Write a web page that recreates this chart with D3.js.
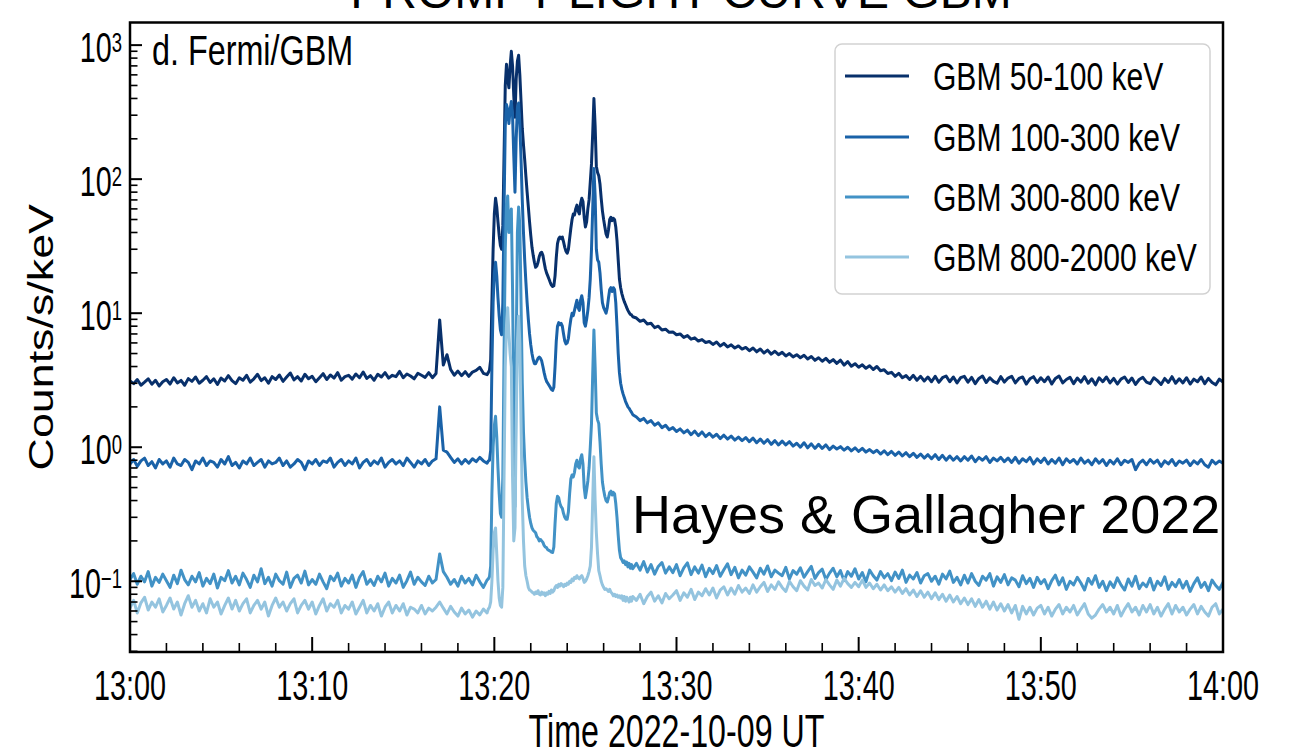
<!DOCTYPE html>
<html>
<head>
<meta charset="utf-8">
<script src="https://cdn.jsdelivr.net/npm/d3@7"></script>
<style>
  html, body { margin: 0; padding: 0; background: #ffffff; }
  svg { display: block; }
  text { font-family: "Liberation Sans", Arial, Helvetica, sans-serif; fill: #000; }
</style>
</head>
<body>
<svg id="chart" width="1291" height="755"></svg>
<script>
// Energy channels of the Fermi/GBM light curve and their colours
const channels = ["GBM 50-100 keV", "GBM 100-300 keV", "GBM 300-800 keV", "GBM 800-2000 keV"];
const colors = ["#08306b", "#1a62a8", "#4292c6", "#94c4df"];

// Sampling of each segment, in seconds after 13:00 UT
const preStart = 0, preStep = 12;      // quiet time before the flare
const flareStart = 1180, flareStep = 4; // impulsive phase
const postStart = 1668, postStep = 12;  // decay

// X axis tick labels (UT)
const timeTicks = ["13:00", "13:10", "13:20", "13:30", "13:40", "13:50", "14:00"];
// Y axis decades (exponents)
const decades = [-1, 0, 1, 2, 3];

// ---- 50-100 keV (counts/s/keV) ----
const c1_pre = [
  3.12, 2.98, 3.2, 2.9, 3.06, 3.24, 2.95, 3.16, 2.86, 3.08,
  3.2, 2.96, 3.3, 3.02, 3.15, 2.9, 3.25, 3.1, 3.34, 3.0,
  3.16, 3.36, 3.04, 3.24, 2.94, 3.28, 3.12, 3.42, 3.14, 2.98,
  3.3, 3.16, 3.44, 3.06, 3.24, 3.5, 3.14, 3.3, 3.0, 3.36,
  3.2, 3.46, 3.1, 3.34, 3.58, 3.18, 3.36, 3.12, 3.5, 3.24,
  3.38, 3.08, 3.3, 3.54, 3.2, 3.46, 3.28, 3.6, 3.16, 3.36,
  3.44, 3.22, 3.52, 3.3, 3.64, 3.26, 3.42, 3.16, 3.5, 3.34,
  3.6, 3.28, 3.44, 3.36, 3.68, 3.3, 3.52, 3.4, 3.24, 3.56,
  3.44, 3.32, 3.6, 3.3, 3.55,
  8.9,
  4.1, 4.9, 3.8, 3.45, 3.7, 3.42, 3.66, 3.38, 3.64, 3.74, 3.95, 3.56, 3.48
];
const c1_flare = [
  3.6, 3.75, 4.5, 12, 30, 55, 72, 62, 48, 38,
  32, 30, 45, 150, 500, 720, 560, 480, 700, 900,
  700, 420, 290, 560, 760, 840, 600, 380, 240, 180,
  140, 105, 80, 62, 48, 38, 31, 27, 24, 22,
  22.5, 24, 26.5, 28, 28.5, 27, 24, 21.5, 20, 19,
  18, 17, 16.2, 15.8, 16, 19, 26, 33, 36, 37,
  36, 37, 34, 31, 29, 28, 30, 36, 43, 50,
  55, 54, 60, 64, 58, 55, 66, 72, 68, 52,
  44, 48, 60, 70, 95, 130, 220, 400, 250, 125,
  112, 106, 92, 72, 58, 50, 44, 39, 37, 42,
  50, 52, 49, 51, 50, 44, 35, 25, 18, 15.5,
  14, 13, 12.2, 11.6, 11, 10.5, 10.1, 9.8, 9.7, 9.4
];
const c1_post = [
  9.2, 8.7, 8.9, 8.3, 8.4, 7.8, 8.0, 7.5, 7.6, 7.2,
  7.25, 6.9, 7.0, 6.6, 6.8, 6.4, 6.55, 6.2, 6.35, 6.05,
  6.15, 5.85, 6.1, 5.7, 5.95, 5.6, 5.8, 5.5, 5.7, 5.4,
  5.55, 5.25, 5.5, 5.15, 5.4, 5.05, 5.3, 4.95, 5.2, 4.9,
  5.1, 4.8, 5.0, 4.72, 4.9, 4.65, 4.85, 4.55, 4.75, 4.45,
  4.65, 4.38, 4.6, 4.3, 4.5, 4.22, 4.46, 4.1, 4.35, 4.02,
  4.2, 3.95, 4.12, 3.88, 4.05, 3.8, 4.0, 3.72, 3.78, 3.55,
  3.62, 3.38, 3.56, 3.3, 3.42, 3.2, 3.44, 3.16, 3.38, 3.12,
  3.34, 3.08, 3.38, 3.05, 3.3, 3.4, 3.08, 3.34, 3.02, 3.3,
  3.38, 3.06, 3.32, 2.98, 3.26, 3.4, 3.04, 3.3, 3.1, 3.0,
  3.36, 3.06, 3.28, 3.38, 3.02, 3.26, 3.34, 2.96, 3.24, 3.36,
  3.04, 3.3, 3.08, 3.34, 2.96, 3.26, 3.4, 3.02, 3.2, 3.32,
  2.98, 3.28, 3.06, 3.36, 3.0, 3.24, 2.92, 3.3, 3.08, 3.34,
  3.02, 3.26, 2.96, 3.22, 3.34, 3.04, 3.28, 2.94, 3.2, 3.32,
  3.06, 2.98, 3.3, 3.14, 2.94, 3.26, 3.04, 3.36, 3.0, 3.24,
  3.02, 3.3, 2.96, 3.22, 3.08, 3.34, 2.98, 3.26, 3.04, 2.92, 3.22, 3.06
];

// ---- 100-300 keV ----
const c2_pre = [
  0.75, 0.81, 0.72, 0.79, 0.83, 0.73, 0.78, 0.7, 0.81, 0.75,
  0.79, 0.71, 0.83, 0.75, 0.73, 0.81, 0.77, 0.68, 0.79, 0.75,
  0.83, 0.73, 0.79, 0.77, 0.71, 0.81, 0.75, 0.85, 0.73, 0.77,
  0.7, 0.79, 0.75, 0.83, 0.73, 0.77, 0.81, 0.71, 0.79, 0.75,
  0.77, 0.83, 0.73, 0.79, 0.71, 0.75, 0.81, 0.77, 0.68, 0.79,
  0.75, 0.81, 0.73, 0.79, 0.77, 0.83, 0.71, 0.77, 0.81, 0.73,
  0.79, 0.75, 0.83, 0.7, 0.77, 0.81, 0.73, 0.79, 0.75, 0.83,
  0.71, 0.77, 0.81, 0.75, 0.79, 0.73, 0.83, 0.77, 0.71, 0.79,
  0.75, 0.81, 0.73, 0.79, 0.82,
  2.0,
  0.95, 0.92, 0.84, 0.77, 0.82, 0.75, 0.81, 0.76, 0.82, 0.78, 0.84, 0.79, 0.76
];
const c2_flare = [
  0.79, 0.8, 0.95, 4, 12, 20, 24, 19, 13, 9.5,
  7.5, 6.9, 12, 60, 250, 360, 330, 260, 330, 380,
  300, 150, 80, 200, 340, 370, 260, 140, 70, 40,
  25, 17, 12, 9, 7, 5.8, 5.0, 4.5, 4.2, 4.2,
  4.4, 4.6, 4.7, 4.6, 4.4, 4.0, 3.6, 3.3, 3.1, 3.0,
  2.9, 2.8, 2.7, 2.65, 2.8, 4.0, 6.2, 8.0, 8.5, 8.2,
  8.4, 8.0, 7.0, 6.2, 5.9, 6.0, 6.5, 7.8, 9.0, 10,
  9.6, 10.5, 11.5, 12.5, 11, 10.5, 12.5, 13.5, 12, 8.5,
  8.0, 9.0, 10.5, 13, 18, 30, 60, 120, 75, 30,
  25, 24, 20, 15, 12, 11, 10.5, 10, 11, 13,
  15, 15.5, 14.5, 15.5, 15, 12, 8, 5, 3.6, 3.0,
  2.7, 2.5, 2.35, 2.2, 2.1, 2.0, 1.95, 1.88, 1.82, 1.75
];
const c2_post = [
  1.68, 1.58, 1.64, 1.52, 1.58, 1.46, 1.52, 1.4, 1.46, 1.35,
  1.4, 1.31, 1.37, 1.28, 1.34, 1.24, 1.32, 1.22, 1.3, 1.2,
  1.27, 1.19, 1.25, 1.16, 1.23, 1.15, 1.21, 1.13, 1.19, 1.12,
  1.18, 1.1, 1.17, 1.08, 1.15, 1.07, 1.14, 1.05, 1.12, 1.04,
  1.11, 1.04, 1.1, 1.02, 1.07, 1.0, 1.08, 0.99, 1.06, 0.98,
  1.05, 0.98, 1.04, 0.96, 1.02, 0.97, 1.01, 0.95, 1.0, 0.94,
  0.99, 0.93, 0.98, 0.92, 0.96, 0.91, 0.95, 0.89, 0.94, 0.88,
  0.93, 0.87, 0.92, 0.86, 0.91, 0.85, 0.9, 0.84, 0.89, 0.83,
  0.88, 0.82, 0.88, 0.81, 0.87, 0.8, 0.86, 0.8, 0.85, 0.79,
  0.85, 0.8, 0.86, 0.78, 0.84, 0.8, 0.85, 0.77, 0.83, 0.79,
  0.84, 0.78, 0.83, 0.77, 0.84, 0.76, 0.82, 0.78, 0.84, 0.75,
  0.82, 0.77, 0.83, 0.75, 0.81, 0.76, 0.83, 0.74, 0.82, 0.77,
  0.81, 0.75, 0.83, 0.76, 0.8, 0.74, 0.82, 0.76, 0.81, 0.73,
  0.8, 0.75, 0.82, 0.74, 0.8, 0.77, 0.81, 0.68, 0.76, 0.8,
  0.74, 0.81, 0.76, 0.8, 0.72, 0.79, 0.75, 0.81, 0.73, 0.79,
  0.76, 0.8, 0.73, 0.79, 0.75, 0.81, 0.74, 0.71, 0.8, 0.75, 0.79, 0.76
];

// ---- 300-800 keV ----
const c3_pre = [
  0.103, 0.114, 0.095, 0.109, 0.099, 0.118, 0.092, 0.107, 0.098, 0.113,
  0.101, 0.09, 0.111, 0.096, 0.121, 0.103, 0.094, 0.109, 0.099, 0.116,
  0.092, 0.105, 0.096, 0.113, 0.089, 0.107, 0.101, 0.12, 0.097, 0.109,
  0.094, 0.115, 0.103, 0.09, 0.111, 0.099, 0.124, 0.096, 0.107, 0.092,
  0.113, 0.101, 0.095, 0.117, 0.09, 0.105, 0.111, 0.097, 0.119, 0.094,
  0.103, 0.095, 0.113, 0.099, 0.088, 0.109, 0.101, 0.115, 0.092, 0.105,
  0.097, 0.111, 0.09, 0.107, 0.118, 0.095, 0.103, 0.093, 0.109, 0.099,
  0.115, 0.092, 0.105, 0.097, 0.111, 0.09, 0.101, 0.117, 0.095, 0.107,
  0.099, 0.093, 0.109, 0.097, 0.103,
  0.16,
  0.118, 0.107, 0.095, 0.103, 0.092, 0.109, 0.097, 0.105, 0.094, 0.111, 0.099, 0.09, 0.102
];
const c3_flare = [
  0.104, 0.108, 0.13, 0.45, 1.0, 1.45, 1.7, 1.2, 0.7, 0.45,
  0.32, 0.3, 0.6, 5, 30, 65, 75, 40, 50, 60,
  15, 2, 0.36, 5, 40, 62, 45, 12, 3, 1.3,
  0.8, 0.55, 0.42, 0.35, 0.3, 0.27, 0.25, 0.24, 0.235, 0.23,
  0.215, 0.21, 0.2, 0.205, 0.2, 0.195, 0.185, 0.18, 0.178, 0.172,
  0.17, 0.168, 0.165, 0.164, 0.18, 0.27, 0.38, 0.43, 0.42, 0.38,
  0.36, 0.35, 0.32, 0.3, 0.29, 0.29, 0.33, 0.45, 0.58, 0.62,
  0.6, 0.65, 0.75, 0.8, 0.72, 0.7, 0.82, 0.88, 0.75, 0.5,
  0.42, 0.48, 0.56, 0.7, 1.0, 1.5, 3.5, 7.5, 4.0, 1.8,
  1.6, 1.5, 1.1, 0.75, 0.55, 0.48, 0.43, 0.4, 0.39, 0.42,
  0.46, 0.47, 0.44, 0.46, 0.45, 0.38, 0.3, 0.22, 0.17, 0.15,
  0.145, 0.138, 0.142, 0.133, 0.139, 0.128, 0.136, 0.125, 0.133, 0.124
];
const c3_post = [
  0.136, 0.121, 0.14, 0.117, 0.133, 0.113, 0.129, 0.138, 0.115, 0.128,
  0.116, 0.133, 0.11, 0.126, 0.137, 0.112, 0.128, 0.115, 0.132, 0.108,
  0.125, 0.114, 0.131, 0.109, 0.122, 0.135, 0.112, 0.127, 0.106, 0.121,
  0.111, 0.128, 0.117, 0.106, 0.125, 0.113, 0.13, 0.108, 0.121, 0.115,
  0.11, 0.127, 0.104, 0.12, 0.113, 0.126, 0.107, 0.118, 0.129, 0.105,
  0.116, 0.123, 0.103, 0.115, 0.125, 0.108, 0.12, 0.101, 0.118, 0.109,
  0.124, 0.104, 0.116, 0.099, 0.121, 0.11, 0.102, 0.118, 0.106, 0.114,
  0.101, 0.117, 0.105, 0.121, 0.098, 0.111, 0.104, 0.116, 0.097, 0.11,
  0.114, 0.1, 0.109, 0.095, 0.113, 0.104, 0.119, 0.098, 0.107, 0.094,
  0.111, 0.097, 0.114, 0.1, 0.093, 0.109, 0.102, 0.114, 0.092, 0.108,
  0.098, 0.112, 0.094, 0.106, 0.102, 0.091, 0.11, 0.096, 0.105, 0.09,
  0.107, 0.096, 0.103, 0.088, 0.101, 0.111, 0.094, 0.106, 0.087, 0.1,
  0.094, 0.107, 0.097, 0.086, 0.105, 0.095, 0.11, 0.09, 0.1, 0.085,
  0.099, 0.09, 0.106, 0.094, 0.086, 0.104, 0.092, 0.109, 0.088, 0.097,
  0.091, 0.105, 0.086, 0.1, 0.093, 0.108, 0.087, 0.098, 0.091, 0.103,
  0.089, 0.1, 0.084, 0.096, 0.106, 0.09, 0.098, 0.085, 0.102, 0.093, 0.087, 0.098
];

// ---- 800-2000 keV ----
const c4_pre = [
  0.063, 0.072, 0.058, 0.069, 0.076, 0.061, 0.07, 0.064, 0.074, 0.059,
  0.066, 0.075, 0.062, 0.07, 0.056, 0.068, 0.078, 0.064, 0.072, 0.06,
  0.068, 0.058, 0.074, 0.064, 0.07, 0.057, 0.066, 0.075, 0.062, 0.072,
  0.06, 0.068, 0.074, 0.058, 0.066, 0.072, 0.062, 0.07, 0.055, 0.066,
  0.075, 0.064, 0.07, 0.06, 0.068, 0.074, 0.058, 0.066, 0.072, 0.062,
  0.07, 0.057, 0.066, 0.074, 0.06, 0.068, 0.064, 0.072, 0.058, 0.066,
  0.062, 0.07, 0.057, 0.064, 0.072, 0.058, 0.066, 0.06, 0.068, 0.055,
  0.064, 0.07, 0.058, 0.066, 0.06, 0.068, 0.056, 0.064, 0.062, 0.058,
  0.066, 0.057, 0.063, 0.06, 0.064,
  0.07,
  0.063, 0.057, 0.065, 0.059, 0.055, 0.063, 0.057, 0.061, 0.054, 0.06, 0.056, 0.062, 0.058
];
const c4_flare = [
  0.062, 0.064, 0.07, 0.1, 0.17, 0.23, 0.25, 0.16, 0.1, 0.075,
  0.066, 0.064, 0.09, 0.6, 4, 8, 11, 7, 5, 4,
  0.6, 0.2, 0.25, 1.5, 6, 9.5, 6, 1.5, 0.4, 0.2,
  0.13, 0.11, 0.1, 0.09, 0.086, 0.085, 0.083, 0.082, 0.08, 0.083,
  0.081, 0.085, 0.08, 0.079, 0.083, 0.08, 0.082, 0.078, 0.082, 0.08,
  0.084, 0.081, 0.086, 0.083, 0.085, 0.09, 0.093, 0.09, 0.095, 0.092,
  0.096, 0.094, 0.091, 0.095, 0.093, 0.097, 0.095, 0.1, 0.098, 0.104,
  0.101, 0.107, 0.105, 0.11, 0.106, 0.104, 0.108, 0.11, 0.105, 0.098,
  0.1, 0.104, 0.11, 0.118, 0.13, 0.18, 0.4, 0.85, 0.4, 0.23,
  0.16, 0.12, 0.11, 0.1, 0.094, 0.09, 0.087, 0.088, 0.086, 0.084,
  0.087, 0.083, 0.081, 0.078, 0.08, 0.077, 0.079, 0.076, 0.078, 0.075,
  0.078, 0.072, 0.077, 0.071, 0.076, 0.073, 0.07, 0.076, 0.071, 0.077
];
const c4_post = [
  0.072, 0.08, 0.068, 0.077, 0.083, 0.071, 0.078, 0.069, 0.081, 0.074,
  0.079, 0.085, 0.072, 0.082, 0.076, 0.087, 0.073, 0.083, 0.078, 0.088,
  0.079, 0.089, 0.075, 0.086, 0.091, 0.079, 0.089, 0.08, 0.093, 0.083,
  0.089, 0.081, 0.094, 0.083, 0.091, 0.098, 0.084, 0.094, 0.087, 0.099,
  0.09, 0.084, 0.1, 0.091, 0.085, 0.101, 0.092, 0.086, 0.103, 0.093,
  0.097, 0.089, 0.103, 0.094, 0.087, 0.102, 0.092, 0.105, 0.096, 0.09,
  0.098, 0.091, 0.102, 0.09, 0.097, 0.088, 0.095, 0.086, 0.094, 0.085,
  0.091, 0.083, 0.09, 0.081, 0.088, 0.079, 0.086, 0.077, 0.085, 0.076,
  0.083, 0.074, 0.082, 0.073, 0.08, 0.071, 0.079, 0.07, 0.077, 0.068,
  0.075, 0.067, 0.074, 0.065, 0.073, 0.064, 0.071, 0.062, 0.07, 0.061,
  0.068, 0.06, 0.067, 0.058, 0.066, 0.052, 0.065, 0.057, 0.064, 0.056,
  0.063, 0.066, 0.057, 0.064, 0.055, 0.062, 0.067, 0.057, 0.064, 0.059,
  0.066, 0.056, 0.062, 0.068, 0.057, 0.053, 0.056, 0.062, 0.067, 0.059,
  0.064, 0.057, 0.066, 0.055, 0.062, 0.068, 0.059, 0.064, 0.056, 0.066,
  0.059, 0.067, 0.057, 0.064, 0.055, 0.062, 0.068, 0.057, 0.066, 0.059,
  0.064, 0.056, 0.062, 0.067, 0.057, 0.065, 0.059, 0.055, 0.064, 0.068, 0.057, 0.062
];

// ------------------------------------------------------------------
const svg = d3.select("#chart");
const plot = { left: 130, right: 1223, top: 22.5, bottom: 652 };
const t0 = Date.UTC(2022, 9, 9, 13, 0, 0);

const x = d3.scaleUtc()
  .domain([new Date(t0), new Date(t0 + 3600 * 1000)])
  .range([plot.left, plot.right]);
const y = d3.scaleLog()
  .domain([0.02966, 1475])
  .range([plot.bottom, plot.top]);

function segment(vals, start, step) {
  return vals.map((v, i) => ({ date: new Date(t0 + (start + i * step) * 1000), v }));
}
const raw = [
  [c1_pre, c1_flare, c1_post],
  [c2_pre, c2_flare, c2_post],
  [c3_pre, c3_flare, c3_post],
  [c4_pre, c4_flare, c4_post]
];
const series = raw.map((s, k) => ({
  name: channels[k],
  color: colors[k],
  points: [].concat(
    segment(s[0], preStart, preStep),
    segment(s[1], flareStart, flareStep),
    segment(s[2], postStart, postStep))
}));

// Title above the frame (cropped at the top of the page)
svg.append("text")
  .attr("x", 681).attr("y", 8)
  .attr("text-anchor", "middle")
  .style("font-size", "48px")
  .text("PROMPT LIGHT CURVE GBM");

// Clip for the curves
svg.append("clipPath").attr("id", "plotclip")
  .append("rect")
  .attr("x", plot.left).attr("y", plot.top)
  .attr("width", plot.right - plot.left).attr("height", plot.bottom - plot.top);

const line = d3.line()
  .x(d => x(d.date))
  .y(d => y(d.v));

svg.append("g").attr("clip-path", "url(#plotclip)")
  .selectAll("path")
  .data(series)
  .join("path")
  .attr("d", d => line(d.points))
  .attr("fill", "none")
  .attr("stroke", d => d.color)
  .attr("stroke-width", 3)
  .attr("stroke-linejoin", "round")
  .attr("stroke-linecap", "round");

// ---- ticks (pointing inward) ----
const tickG = svg.append("g").attr("stroke", "#000");
const majorX = x.ticks(d3.utcMinute.every(10));
const minorX = x.ticks(d3.utcMinute.every(2)).filter(d => d.getUTCMinutes() % 10 !== 0);
tickG.selectAll("line.xmaj").data(majorX).join("line")
  .attr("x1", d => x(d)).attr("x2", d => x(d))
  .attr("y1", plot.bottom).attr("y2", plot.bottom - 15)
  .attr("stroke-width", 2);
tickG.selectAll("line.xmin").data(minorX).join("line")
  .attr("x1", d => x(d)).attr("x2", d => x(d))
  .attr("y1", plot.bottom).attr("y2", plot.bottom - 9)
  .attr("stroke-width", 1.6);

const majorY = decades.map(e => Math.pow(10, e));
const minorY = [];
for (let e = -2; e <= 3; e++) {
  for (let k = 2; k <= 9; k++) {
    const v = k * Math.pow(10, e);
    if (v >= y.domain()[0] && v <= y.domain()[1]) minorY.push(v);
  }
}
tickG.selectAll("line.ymaj").data(majorY).join("line")
  .attr("x1", plot.left).attr("x2", plot.left + 12)
  .attr("y1", d => y(d)).attr("y2", d => y(d))
  .attr("stroke-width", 2);
tickG.selectAll("line.ymin").data(minorY).join("line")
  .attr("x1", plot.left).attr("x2", plot.left + 7.5)
  .attr("y1", d => y(d)).attr("y2", d => y(d))
  .attr("stroke-width", 1.6);

// ---- frame ----
svg.append("rect")
  .attr("x", plot.left).attr("y", plot.top)
  .attr("width", plot.right - plot.left).attr("height", plot.bottom - plot.top)
  .attr("fill", "none").attr("stroke", "#000").attr("stroke-width", 2.5);

// Narrow, tall lettering: text drawn at a size and squeezed horizontally
function squeezed(parent, px, py, sx) {
  return parent.append("g").attr("transform", `translate(${px},${py}) scale(${sx},1)`).append("text");
}

// X tick labels
const fmt = d3.utcFormat("%H:%M");
majorX.forEach((d, i) => {
  squeezed(svg, x(d), 700, 0.67)
    .attr("text-anchor", "middle")
    .style("font-size", "43px")
    .text(timeTicks[i] || fmt(d));
});

// Y tick labels 10^n
decades.forEach(e => {
  const t = squeezed(svg, 122, y(Math.pow(10, e)) + 17, 0.685)
    .attr("text-anchor", "end")
    .style("font-size", "42px");
  t.append("tspan").text("10");
  t.append("tspan")
    .attr("dy", -10)
    .style("font-size", "27px")
    .text(e < 0 ? "\u2212" + (-e) : String(e));
});

// Axis titles
squeezed(svg, (plot.left + plot.right) / 2, 747, 0.7)
  .attr("text-anchor", "middle")
  .style("font-size", "46px")
  .text("Time 2022-10-09 UT");

svg.append("g")
  .attr("transform", `translate(53,${(plot.top + plot.bottom) / 2}) scale(1,1.28) rotate(-90)`)
  .append("text")
  .attr("text-anchor", "middle")
  .style("font-size", "35px")
  .text("Counts/s/keV");

// Panel label
squeezed(svg, 152, 65, 0.77)
  .style("font-size", "42px")
  .text("d. Fermi/GBM");

// ---- legend ----
const lg = svg.append("g");
lg.append("rect")
  .attr("x", 835).attr("y", 44).attr("width", 375).attr("height", 250)
  .attr("rx", 7).attr("ry", 7)
  .attr("fill", "#fff").attr("fill-opacity", 0.85)
  .attr("stroke", "#d2d2d2").attr("stroke-width", 1.5);
const rowY = [76, 137, 197, 257];
series.forEach((s, k) => {
  lg.append("line")
    .attr("x1", 845).attr("x2", 909)
    .attr("y1", rowY[k]).attr("y2", rowY[k])
    .attr("stroke", s.color).attr("stroke-width", 3);
  squeezed(lg, 933, rowY[k] + 14, 0.77)
    .style("font-size", "39px")
    .text(s.name);
});

// Credit
svg.append("text")
  .attr("x", 632).attr("y", 533)
  .style("font-size", "54px")
  .text("Hayes & Gallagher 2022");
</script>
</body>
</html>
